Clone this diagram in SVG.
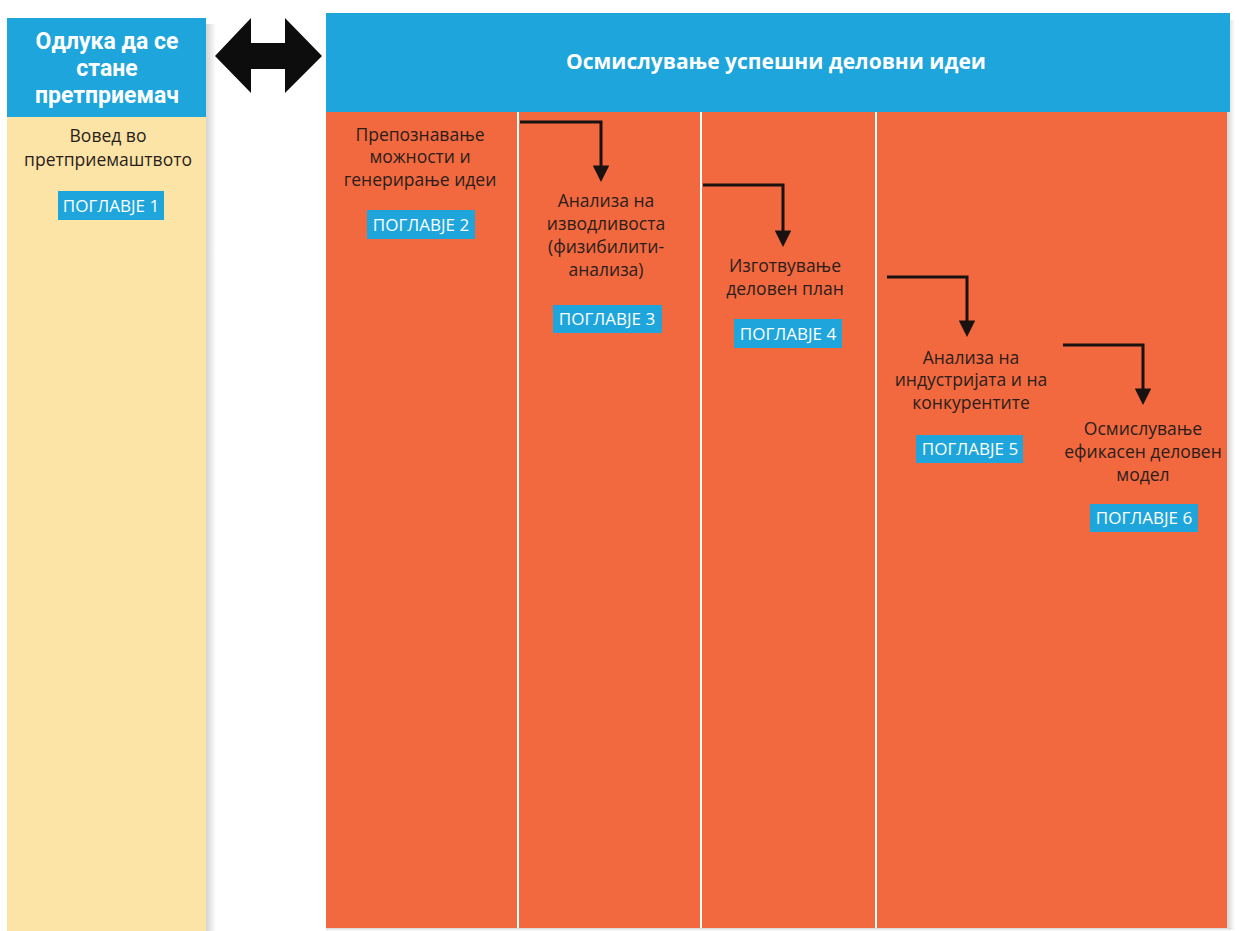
<svg xmlns="http://www.w3.org/2000/svg" width="1239" height="931" viewBox="0 0 1239 931">
<defs>
<style>
.hdr{fill:#1EA5DB}
.beige{fill:#FCE3A6}
.red{fill:#F2693F}
.div{stroke:#FFFFFF;stroke-width:2}
.ht{font-family:"Open Sans","Noto Sans",sans-serif;font-weight:bold;fill:#FFFFFF;text-anchor:middle}
.lh{font-family:Roboto,"Open Sans",sans-serif;font-weight:bold;font-size:23px;fill:#FFFFFF;text-anchor:middle}
.bt{font-family:"Open Sans","Noto Sans",sans-serif;font-size:17.5px;fill:#2A1E1C;text-anchor:middle}
.chap{fill:#1EA5DB}
.ct{font-family:"Open Sans","Noto Sans",sans-serif;font-size:17px;fill:#FFFFFF;text-anchor:middle}
.conn{fill:none;stroke:#1A1210;stroke-width:3}
</style>
<linearGradient id="shR" x1="0" y1="0" x2="1" y2="0">
<stop offset="0" stop-color="#D4D4D4"/>
<stop offset="1" stop-color="#FFFFFF"/>
</linearGradient>
<linearGradient id="shB" x1="0" y1="0" x2="0" y2="1">
<stop offset="0" stop-color="#D4D4D4"/>
<stop offset="1" stop-color="#FFFFFF"/>
</linearGradient>
<marker id="ah" viewBox="0 0 10 10" refX="7" refY="5" markerWidth="6" markerHeight="5.5" markerUnits="strokeWidth" orient="auto">
<path d="M0,0 L10,5 L0,10 z" fill="#1A1210"/>
</marker>
</defs>
<rect width="1239" height="931" fill="#FFFFFF"/>
<g id="left-column">
<rect x="206" y="24" width="10" height="907" fill="url(#shR)"/>
<rect class="beige" x="7" y="117" width="199" height="814"/>
<rect class="hdr" x="7" y="18" width="199" height="99"/>
<text class="lh" x="107" y="49">Одлука да се</text>
<text class="lh" x="107" y="76">стане</text>
<text class="lh" x="107" y="103">претприемач</text>
<text class="bt" x="108" y="142">Вовед во</text>
<text class="bt" x="108" y="166">претприемаштвото</text>
<rect class="chap" x="58" y="191" width="106" height="29"/>
<text class="ct" x="111" y="212">ПОГЛАВЈЕ 1</text>
</g>
<g id="double-arrow">
<path d="M215,56 L251,18 L251,43 L285,43 L285,18 L322,56 L285,93 L285,69 L251,69 L251,93 Z" fill="#0D0D0D"/>
</g>
<g id="right-block">
<rect x="1227" y="20" width="8" height="910" fill="url(#shR)"/>
<rect x="326" y="928" width="905" height="3" fill="url(#shB)"/>
<rect class="red" x="326" y="112" width="901" height="816"/>
<rect class="hdr" x="326" y="13" width="904" height="99"/>
<text class="ht" font-size="21" x="776" y="69">Осмислување успешни деловни идеи</text>
<line class="div" x1="518" y1="112" x2="518" y2="928"/>
<line class="div" x1="701" y1="112" x2="701" y2="928"/>
<line class="div" x1="876" y1="112" x2="876" y2="928"/>
</g>
<g id="step2">
<text class="bt" x="420" y="141">Препознавање</text>
<text class="bt" x="420" y="163">можности и</text>
<text class="bt" x="420" y="186">генерирање идеи</text>
<rect class="chap" x="367" y="210" width="108" height="29"/>
<text class="ct" x="421" y="231">ПОГЛАВЈЕ 2</text>
</g>
<g id="step3">
<text class="bt" x="606" y="207">Анализа на</text>
<text class="bt" x="606" y="230">изводливоста</text>
<text class="bt" x="606" y="253">(физибилити-</text>
<text class="bt" x="606" y="276">анализа)</text>
<rect class="chap" x="553" y="305" width="109" height="28"/>
<text class="ct" x="607" y="325">ПОГЛАВЈЕ 3</text>
</g>
<g id="step4">
<text class="bt" x="785" y="272">Изготвување</text>
<text class="bt" x="785" y="295">деловен план</text>
<rect class="chap" x="734" y="319" width="108" height="29"/>
<text class="ct" x="788" y="340">ПОГЛАВЈЕ 4</text>
</g>
<g id="step5">
<text class="bt" x="971" y="364">Анализа на</text>
<text class="bt" x="971" y="386">индустријата и на</text>
<text class="bt" x="971" y="409">конкурентите</text>
<rect class="chap" x="916" y="435" width="107" height="28"/>
<text class="ct" x="970" y="455">ПОГЛАВЈЕ 5</text>
</g>
<g id="step6">
<text class="bt" x="1143" y="435">Осмислување</text>
<text class="bt" x="1143" y="458">ефикасен деловен</text>
<text class="bt" x="1143" y="481">модел</text>
<rect class="chap" x="1090" y="504" width="108" height="28"/>
<text class="ct" x="1144" y="524">ПОГЛАВЈЕ 6</text>
</g>
<g id="connectors">
<path class="conn" d="M520,122 L601,122 L601,177" marker-end="url(#ah)"/>
<path class="conn" d="M703,185 L783,185 L783,242" marker-end="url(#ah)"/>
<path class="conn" d="M887,277 L967,277 L967,332" marker-end="url(#ah)"/>
<path class="conn" d="M1063,345 L1143,345 L1143,400" marker-end="url(#ah)"/>
</g>
</svg>
